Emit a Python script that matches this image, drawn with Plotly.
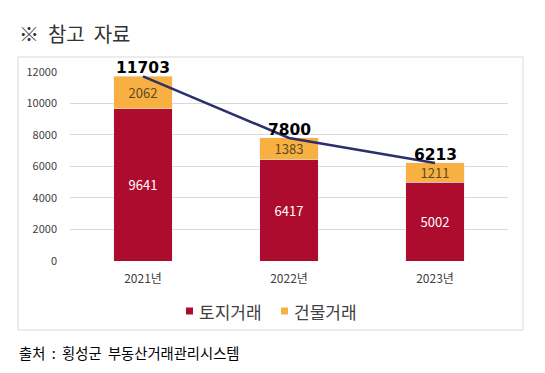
import plotly.graph_objects as go

years = ["2021년", "2022년", "2023년"]
land = [9641, 6417, 5002]
building = [2062, 1383, 1211]
totals = [11703, 7800, 6213]
yticks = [0, 2000, 4000, 6000, 8000, 10000, 12000]
series_names = ["토지거래", "건물거래"]
colors = ["#ae0c2e", "#f8b042"]

W, H = 545, 373
OFF = 8  # page body margin compensation
def px(x): return (x - OFF) / W
def py(y): return 1 - (y - OFF) / H

font_main = "Noto Sans CJK KR, Noto Sans, sans-serif"

fig = go.Figure()
fig.add_trace(go.Bar(
    x=years, y=land, name=series_names[0], marker_color=colors[0],
    text=land, textposition="inside", insidetextanchor="middle",
    textfont=dict(color="white", size=13, family=font_main), width=0.4,
))
fig.add_trace(go.Bar(
    x=years, y=building, name=series_names[1], marker_color=colors[1],
    text=building, textposition="inside", insidetextanchor="middle",
    textfont=dict(color="#5b4a22", size=13, family=font_main), width=0.4,
))
fig.add_trace(go.Scatter(
    x=years, y=totals, mode="lines", line=dict(color="#2d2f6b", width=2.5),
    showlegend=False, hoverinfo="skip",
))
for yr, t in zip(years, totals):
    fig.add_annotation(x=yr, y=t, text=f"<b>{t}</b>", showarrow=False,
                       yanchor="bottom", yshift=-3,
                       font=dict(size=15.5, color="black", family="DejaVu Sans, sans-serif"))

fig.add_shape(type="rect", xref="paper", yref="paper",
              x0=px(18), x1=px(523), y0=py(330), y1=py(57),
              line=dict(color="#d9d9d9", width=1), layer="below")

# manual legend
leg_x = [186, 281]
for name, col, lx in zip(series_names, colors, leg_x):
    fig.add_shape(type="rect", xref="paper", yref="paper",
                  x0=px(lx), x1=px(lx + 7), y0=py(314.5), y1=py(307.5),
                  fillcolor=col, line=dict(width=0))
    fig.add_annotation(xref="paper", yref="paper", x=px(lx + 11), y=py(311), xanchor="left", yanchor="middle",
                       text=name, showarrow=False,
                       font=dict(size=17, color="#404040", family=font_main))

fig.add_annotation(xref="paper", yref="paper", x=px(17), y=py(33), xanchor="left", yanchor="middle",
                   text="※&nbsp; 참고&nbsp; 자료", showarrow=False,
                   font=dict(size=20, color="#333333", family=font_main))
fig.add_annotation(xref="paper", yref="paper", x=px(17), y=py(352), xanchor="left", yanchor="middle",
                   text="출처&nbsp; :&nbsp; 횡성군&nbsp; 부동산거래관리시스템", showarrow=False,
                   font=dict(size=14.3, color="black", family=font_main))

fig.update_layout(
    width=W, height=H, autosize=False,
    margin=dict(l=0, r=0, t=0, b=0, autoexpand=False),
    paper_bgcolor="white", plot_bgcolor="white",
    barmode="stack",
    uniformtext=dict(minsize=13, mode="show"),
    showlegend=False,
    xaxis=dict(domain=[px(70), px(508)], range=[-0.5, 2.5], showline=False, ticks="",
               ticklabelstandoff=9,
               tickfont=dict(size=12, color="#404040", family=font_main)),
    yaxis=dict(domain=[py(261), py(71.7)], range=[0, 12000], tickvals=yticks,
               ticktext=[str(v) for v in yticks],
               showgrid=True, gridcolor="#d9d9d9", gridwidth=1, zeroline=False,
               tickfont=dict(size=11, color="#404040", family=font_main), ticklabelstandoff=12),
)
fig.update_traces(cliponaxis=False, selector=dict(type="bar"))
fig.write_html("out.html")
